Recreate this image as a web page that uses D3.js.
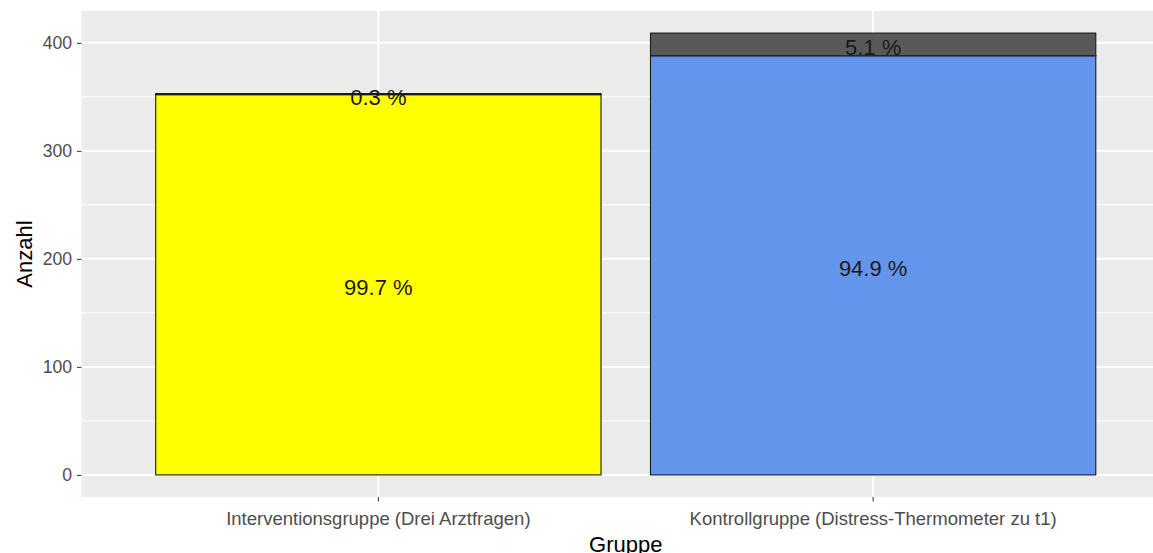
<!DOCTYPE html>
<html>
<head>
<meta charset="utf-8">
<script src="https://cdn.jsdelivr.net/npm/d3@7"></script>
<style>
  body { margin: 0; background: #fff; }
  svg text { font-family: "Liberation Sans", Arial, sans-serif; }
</style>
</head>
<body>
<div id="chart"></div>
<script>
// Groups on the x axis
const groups = ["Interventionsgruppe (Drei Arztfragen)", "Kontrollgruppe (Distress-Thermometer zu t1)"];
// Lower (coloured) segment counts and upper (grey) segment counts
const lowerCounts = [352, 388];
const upperCounts = [1, 21];
const groupColors = ["#FFFF00", "#6495ED"];
const yTicks = [0, 100, 200, 300, 400];
const yMinor = [50, 150, 250, 350];

const width = 1153, height = 553;
const panel = { left: 81.5, right: 1170, top: 11, bottom: 497 };

const svg = d3.select("#chart").append("svg")
    .attr("width", width)
    .attr("height", height);

// ggplot style expansion: 5% on each side of [0, max]
const maxTotal = d3.max(groups, (g, i) => lowerCounts[i] + upperCounts[i]);
const pad = maxTotal * 0.05;

const y = d3.scaleLinear()
    .domain([-pad, maxTotal + pad])
    .range([panel.bottom, panel.top]);

const x = d3.scaleBand()
    .domain(groups)
    .range([panel.left, panel.right])
    .paddingInner(0.1)
    .paddingOuter(0.15);

// panel background
svg.append("rect")
    .attr("x", panel.left)
    .attr("y", panel.top)
    .attr("width", panel.right - panel.left)
    .attr("height", panel.bottom - panel.top)
    .attr("fill", "#EBEBEB");

// minor grid
svg.selectAll(".minor")
    .data(yMinor)
    .enter()
    .append("line")
    .attr("x1", panel.left).attr("x2", panel.right)
    .attr("y1", d => y(d)).attr("y2", d => y(d))
    .attr("stroke", "#fff")
    .attr("stroke-width", 1);

// major grid
svg.selectAll(".major")
    .data(yTicks)
    .enter()
    .append("line")
    .attr("x1", panel.left).attr("x2", panel.right)
    .attr("y1", d => y(d)).attr("y2", d => y(d))
    .attr("stroke", "#fff")
    .attr("stroke-width", 2);

svg.selectAll(".vmajor")
    .data(groups)
    .enter()
    .append("line")
    .attr("x1", d => x(d) + x.bandwidth() / 2)
    .attr("x2", d => x(d) + x.bandwidth() / 2)
    .attr("y1", panel.top).attr("y2", panel.bottom)
    .attr("stroke", "#fff")
    .attr("stroke-width", 2);

// build stacked segments
const segments = [];
groups.forEach((g, i) => {
    const total = lowerCounts[i] + upperCounts[i];
    segments.push({ group: g, y0: 0, y1: lowerCounts[i], fill: groupColors[i],
        label: (lowerCounts[i] / total * 100).toFixed(1) + " %" });
    segments.push({ group: g, y0: lowerCounts[i], y1: total, fill: "#595959",
        label: (upperCounts[i] / total * 100).toFixed(1) + " %" });
});

svg.selectAll(".seg")
    .data(segments)
    .enter()
    .append("rect")
    .attr("class", "seg")
    .attr("x", d => x(d.group))
    .attr("y", d => y(d.y1))
    .attr("width", x.bandwidth())
    .attr("height", d => y(d.y0) - y(d.y1))
    .attr("fill", d => d.fill)
    .attr("stroke", "#1a1a1a")
    .attr("stroke-width", 1.1);

svg.selectAll(".seg-label")
    .data(segments)
    .enter()
    .append("text")
    .attr("x", d => x(d.group) + x.bandwidth() / 2)
    .attr("y", d => y((d.y0 + d.y1) / 2))
    .attr("dy", "0.48em")
    .attr("text-anchor", "middle")
    .attr("font-size", 22)
    .attr("fill", "#1a1a1a")
    .text(d => d.label);

// y axis
const yAxis = svg.append("g")
    .attr("transform", "translate(" + panel.left + ",0)")
    .call(d3.axisLeft(y).tickValues(yTicks).tickSize(4.5).tickPadding(5));
yAxis.select(".domain").remove();
yAxis.selectAll(".tick line").attr("stroke", "#333");
yAxis.selectAll(".tick text").attr("font-size", 17.6).attr("fill", "#4D4D4D");

// x axis
const xAxis = svg.append("g")
    .attr("transform", "translate(0," + panel.bottom + ")")
    .call(d3.axisBottom(x).tickSize(4.5).tickPadding(10));
xAxis.select(".domain").remove();
xAxis.selectAll(".tick line").attr("stroke", "#333");
xAxis.selectAll(".tick text").attr("font-size", 18.5).attr("fill", "#4D4D4D");

// axis titles
svg.append("text")
    .attr("x", (panel.left + panel.right) / 2)
    .attr("y", 552)
    .attr("text-anchor", "middle")
    .attr("font-size", 22)
    .attr("fill", "#000")
    .text("Gruppe");

svg.append("text")
    .attr("transform", "translate(32," + ((panel.top + panel.bottom) / 2) + ") rotate(-90)")
    .attr("text-anchor", "middle")
    .attr("font-size", 22)
    .attr("fill", "#000")
    .text("Anzahl");
</script>
</body>
</html>
